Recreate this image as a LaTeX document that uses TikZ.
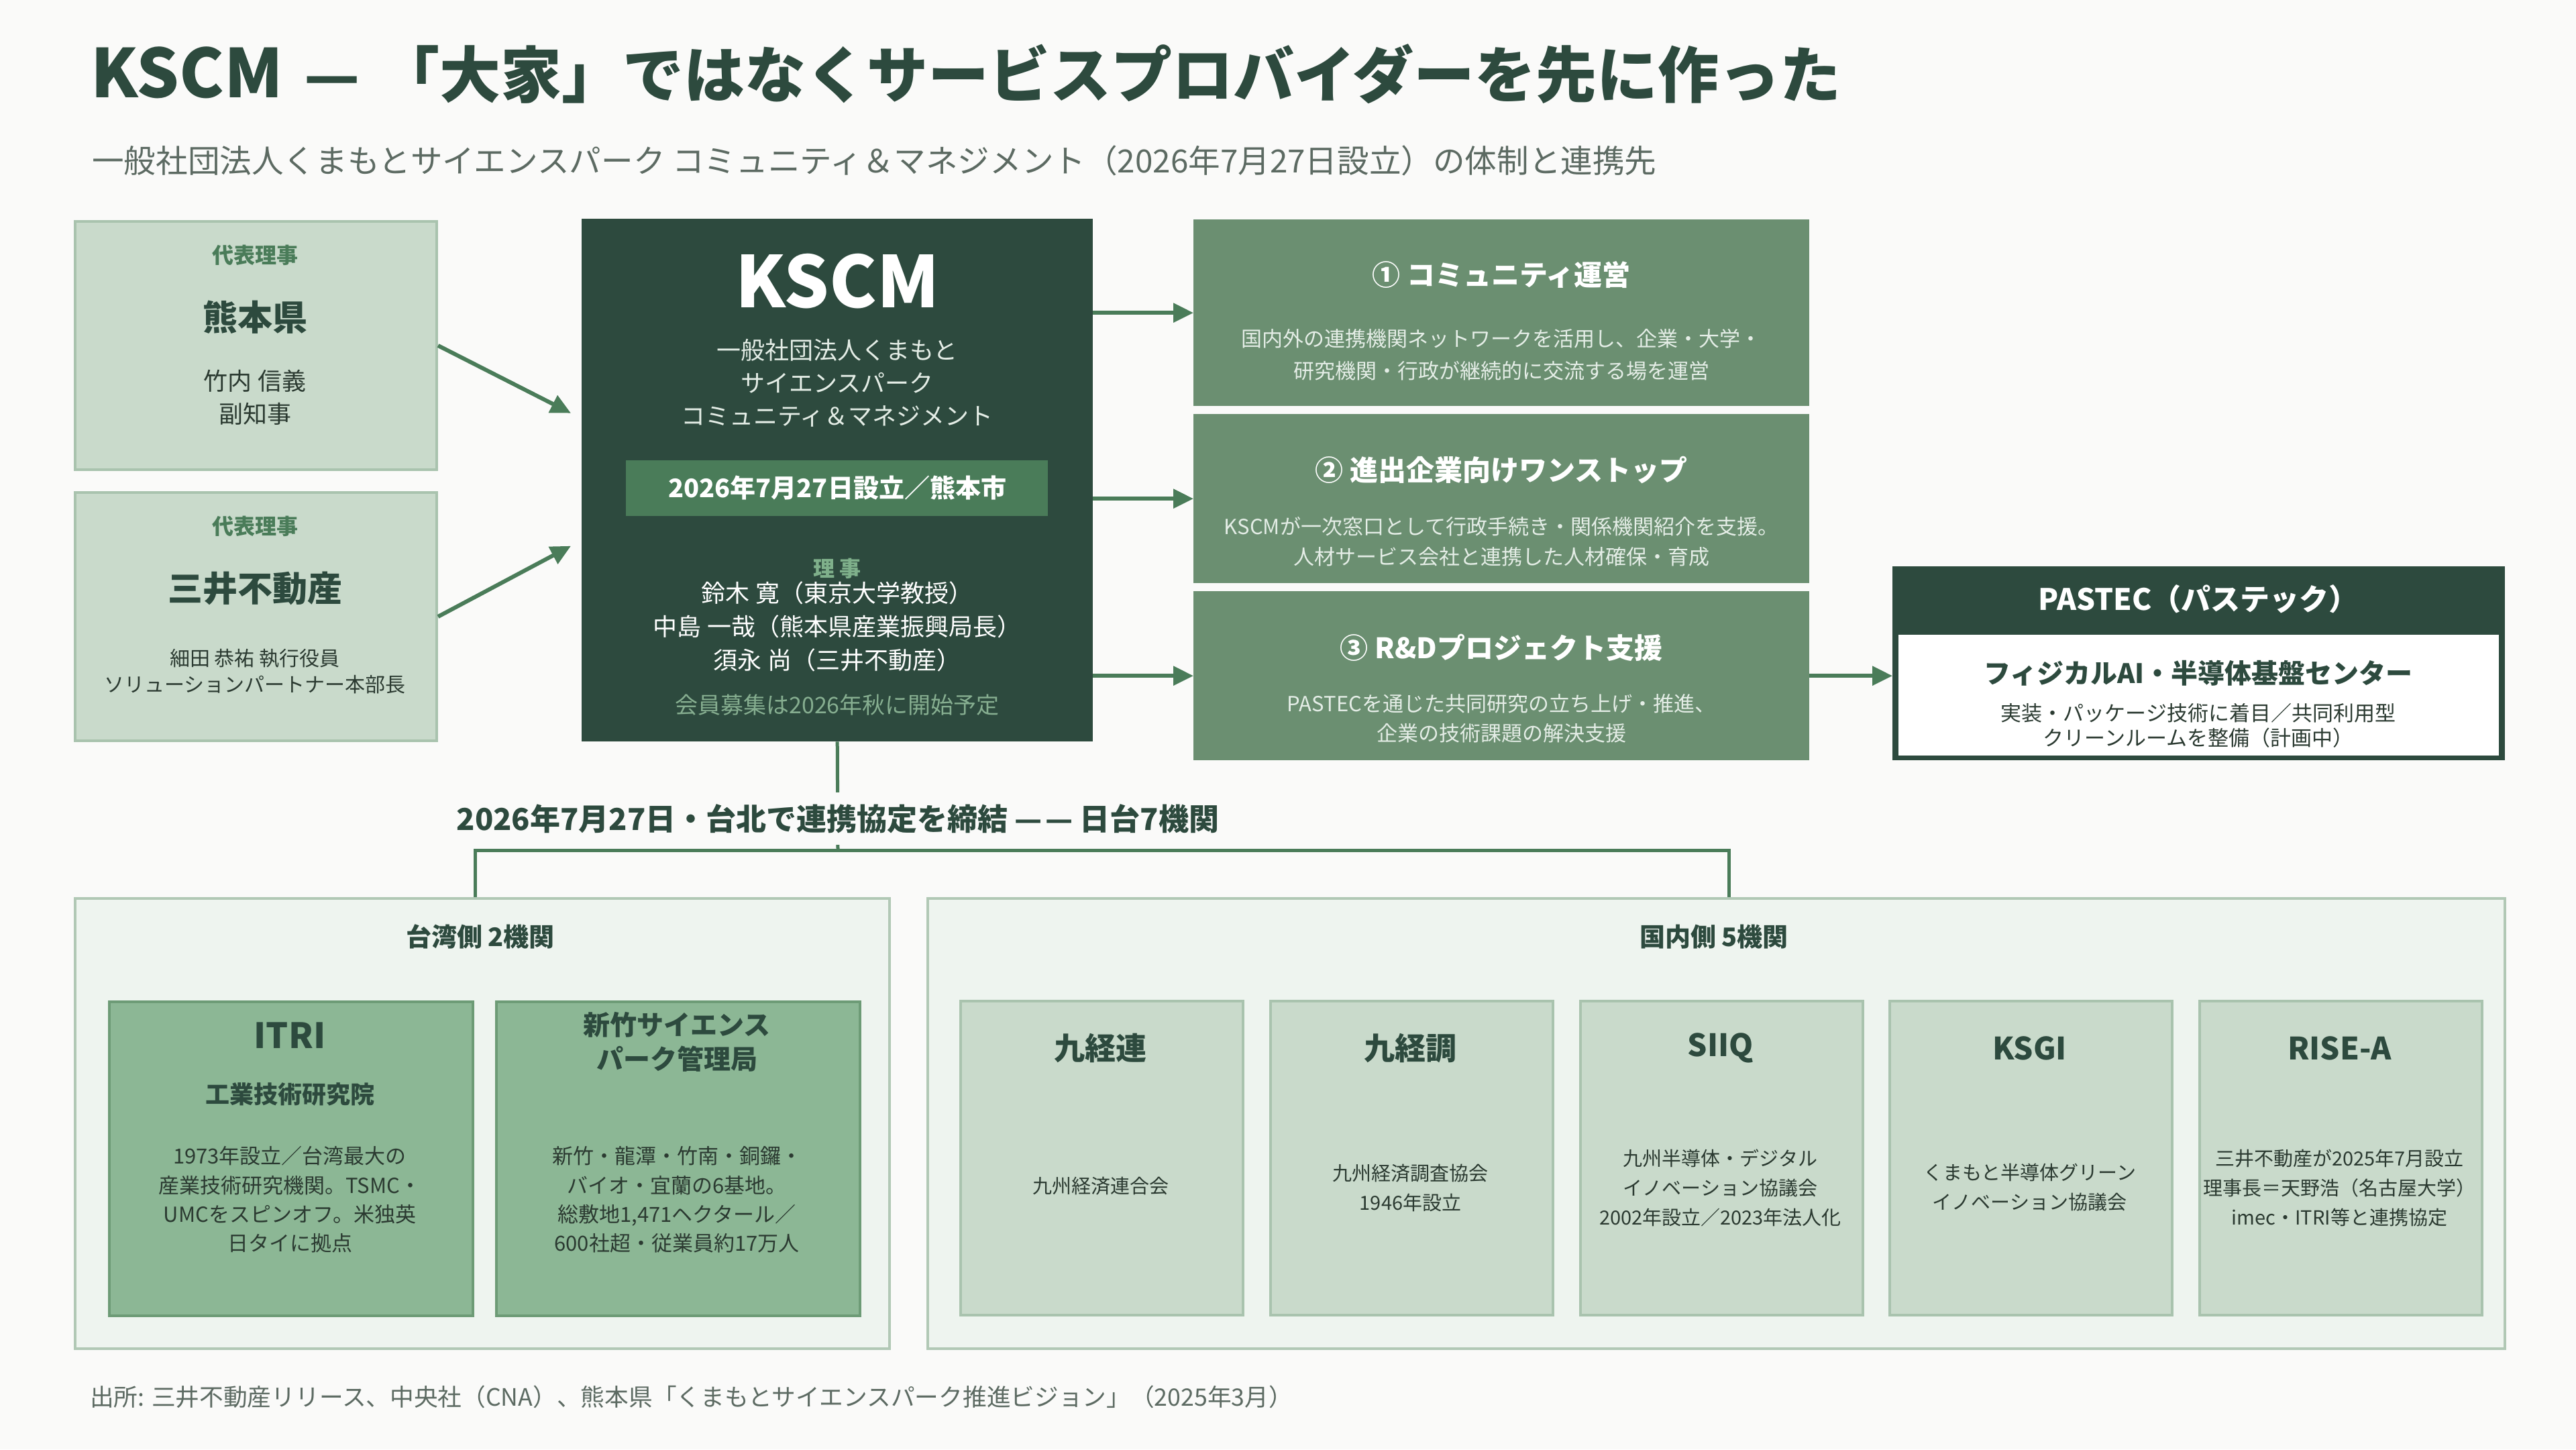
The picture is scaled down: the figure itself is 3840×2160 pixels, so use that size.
\documentclass[tikz,border=0pt]{standalone}
\usepackage{fontspec}
\setmainfont{Noto Sans CJK JP}
\usetikzlibrary{arrows.meta,calc}
\definecolor{bg}{HTML}{FAFAF9}
\definecolor{dk}{HTML}{2D4A3E}
\definecolor{md}{HTML}{4A7C59}
\definecolor{rfill}{HTML}{6B8F71}
\definecolor{lt}{HTML}{C9DACB}
\definecolor{ltb}{HTML}{A9C3AE}
\definecolor{gp}{HTML}{EEF4EF}
\definecolor{gpb}{HTML}{B1C8B5}
\definecolor{twfill}{HTML}{8CB795}
\definecolor{twb}{HTML}{6D9B76}
\definecolor{wt}{HTML}{E4EDE6}
\definecolor{gr}{HTML}{5C6A62}
\definecolor{txt}{HTML}{2B3A31}
\definecolor{lg}{HTML}{7FB08B}
\definecolor{lg2}{HTML}{86AE90}
\newcommand\fsz[2]{\fontsize{#1pt}{#2pt}\selectfont}
\newcommand\mybox[6]{\node[#2, anchor=north west, inner sep=0pt, minimum width={#5-#3}, minimum height={#6-#4}] (#1) at (#3,#4) {};}
\begin{document}
\begin{tikzpicture}[x=1pt,y=-1pt,
  T/.style={inner sep=0pt, align=center, text=txt},
  arr/.style={draw=md, line width=6pt, -{Triangle[length=30pt,width=28pt]}},
  conn/.style={draw=md, line width=5pt},
  lbox/.style={fill=lt, draw=ltb, line width=4pt},
  dbox/.style={fill=dk},
  band/.style={fill=md},
  rbox/.style={fill=rfill},
  pin/.style={fill=white},
  grp/.style={fill=gp, draw=gpb, line width=4pt},
  twbox/.style={fill=twfill, draw=twb, line width=4pt},
  jbox/.style={fill=lt, draw=ltb, line width=4pt},
  ttl/.style={T, font=\fsz{46}{54}\bfseries, text=dk},
  jbody/.style={T, font=\fsz{29}{44}}
]
\fill[bg] (0,0) rectangle (3840,2160);
\useasboundingbox (0,0) rectangle (3840,2160);

% title
\node[T, font=\fsz{91}{100}\bfseries, text=dk, anchor=west] (title) at (135,110) {{\fsz{100}{100}KSCM}\hspace{0.35em}—\hspace{0.3em}「大家」ではなくサービスプロバイダーを先に作った};
\node[T, font=\fsz{47.6}{56}, text=gr, anchor=west] (sub) at (137,239) {一般社団法人くまもとサイエンスパーク コミュニティ＆マネジメント（2026年7月27日設立）の体制と連携先};

% boxes
\mybox{l1}{lbox}{110}{328}{649}{698}
\mybox{l2}{lbox}{110}{732}{649}{1102}
\mybox{kscm}{dbox}{867}{326}{1629}{1105}
\mybox{band}{band}{933}{686}{1562}{769}
\mybox{r1}{rbox}{1779}{327}{2697}{605}
\mybox{r2}{rbox}{1779}{617}{2697}{869}
\mybox{r3}{rbox}{1779}{881}{2697}{1133}
\mybox{pastec}{dbox}{2821}{844}{3734}{1133}
\mybox{pinner}{pin}{2830}{946}{3725}{1126}

% connectors to the groups
\coordinate (hub) at (1249,1267);
\coordinate (twtop) at (708,1337);
\coordinate (jptop) at (2577,1337);
\draw[conn] (kscm.south) -- (hub);
\draw[conn] (twtop) |- (hub) -| (jptop);

\mybox{tw}{grp}{110}{1337}{1324}{2008}
\mybox{jp}{grp}{1381}{1337}{3732}{2008}
\mybox{itri}{twbox}{161}{1491}{703}{1959}
\mybox{hsp}{twbox}{738}{1491}{1280}{1959}
\mybox{j1}{jbox}{1430}{1490}{1851}{1958}
\mybox{j2}{jbox}{1892}{1490}{2313}{1958}
\mybox{j3}{jbox}{2354}{1490}{2775}{1958}
\mybox{j4}{jbox}{2815}{1490}{3236}{1958}
\mybox{j5}{jbox}{3277}{1490}{3698}{1958}

% arrows
\coordinate (ka) at ($(kscm.west)+(-16,-100)$);
\coordinate (kb) at ($(kscm.west)+(-16,98)$);
\draw[arr] (l1.east) -- (ka);
\draw[arr] (l2.east) -- (kb);
\draw[arr] (kscm.east |- r1.west) -- (r1.west);
\draw[arr] (kscm.east |- r2.west) -- (r2.west);
\draw[arr] (kscm.east |- r3.west) -- (r3.west);
\draw[arr] (r3.east) -- (pastec.west |- r3.east);

% left box texts
\node[T, font=\fsz{32}{40}\bfseries, text=md] (l1a) at (380,380) {代表理事};
\node[T, font=\fsz{52}{60}\bfseries, text=dk] (l1b) at (380,473) {熊本県};
\node[T, font=\fsz{36}{49}] (l1c) at (380,592) {竹内 信義\\副知事};
\node[T, font=\fsz{32}{40}\bfseries, text=md] (l2a) at (380,784) {代表理事};
\node[T, font=\fsz{52}{60}\bfseries, text=dk] (l2b) at (380,877) {三井不動産};
\node[T, font=\fsz{30}{39}] (l2c) at (380,1001) {細田 恭祐 執行役員\\ソリューションパートナー本部長};

% KSCM texts
\node[T, font=\fsz{106}{120}\bfseries, text=white] (k0) at (1248,419) {KSCM};
\node[T, font=\fsz{36}{49}, text=wt] (k1) at (1248,571) {一般社団法人くまもと\\サイエンスパーク\\コミュニティ＆マネジメント};
\node[T, font=\fsz{38}{44}\bfseries, text=white] (k2) at (1248,727) {2026年7月27日設立／熊本市};
\node[T, font=\fsz{32}{40}\bfseries, text=lg] (k3) at (1248,847) {理 事};
\node[T, font=\fsz{36}{50}, text=white] (k4) at (1248,934) {鈴木 寛（東京大学教授）\\中島 一哉（熊本県産業振興局長）\\須永 尚（三井不動産）};
\node[T, font=\fsz{34}{40}, text=lg2] (k5) at (1248,1051) {会員募集は2026年秋に開始予定};

% right boxes
\node[T, font=\fsz{42}{50}\bfseries, text=white] (r1t) at (2238,409) {① コミュニティ運営};
\node[T, font=\fsz{31}{48}, text=wt] (r1b) at (2238,529) {国内外の連携機関ネットワークを活用し、企業・大学・\\研究機関・行政が継続的に交流する場を運営};
\node[T, font=\fsz{42}{50}\bfseries, text=white] (r2t) at (2238,700) {② 進出企業向けワンストップ};
\node[T, font=\fsz{31}{45}, text=wt] (r2b) at (2238,807) {KSCMが一次窓口として行政手続き・関係機関紹介を支援。\\人材サービス会社と連携した人材確保・育成};
\node[T, font=\fsz{42}{50}\bfseries, text=white] (r3t) at (2238,965) {③ R\&Dプロジェクト支援};
\node[T, font=\fsz{31}{44}, text=wt] (r3b) at (2238,1071) {PASTECを通じた共同研究の立ち上げ・推進、\\企業の技術課題の解決支援};

% PASTEC
\node[T, font=\fsz{44}{50}\bfseries, text=white] (p0) at (3277,893) {PASTEC（パステック）};
\node[T, font=\fsz{40}{48}\bfseries, text=dk] (p1) at (3277,1003) {フィジカルAI・半導体基盤センター};
\node[T, font=\fsz{31}{37}] (p2) at (3277,1081) {実装・パッケージ技術に着目／共同利用型\\クリーンルームを整備（計画中）};

% agreement label
\node[T, font=\fsz{45}{50}\bfseries, text=dk, fill=bg, inner xsep=10pt, inner ysep=17pt] (lab) at (1249,1220) {2026年7月27日・台北で連携協定を締結 —\hspace{0.1em}— 日台7機関};

% groups
\node[T, font=\fsz{38}{44}\bfseries, text=dk] (twt) at (716,1396) {台湾側 2機関};
\node[T, font=\fsz{38}{44}\bfseries, text=dk] (jpt) at (2555,1396) {国内側 5機関};

\node[T, font=\fsz{52}{60}\bfseries, text=dk] (i0) at (432,1543) {ITRI};
\node[T, font=\fsz{36}{44}\bfseries, text=dk] (i1) at (432,1631) {工業技術研究院};
\node[T, font=\fsz{31}{43.3}] (i2) at (432,1788) {1973年設立／台湾最大の\\産業技術研究機関。TSMC・\\UMCをスピンオフ。米独英\\日タイに拠点};
\node[T, font=\fsz{40}{51}\bfseries, text=dk] (h0) at (1009,1553) {新竹サイエンス\\パーク管理局};
\node[T, font=\fsz{31}{43.3}] (h1) at (1009,1788) {新竹・龍潭・竹南・銅鑼・\\バイオ・宜蘭の6基地。\\総敷地1,471ヘクタール／\\600社超・従業員約17万人};

\node[ttl] (j1t) at (1640.5,1562) {九経連};
\node[jbody] (j1b) at (1640.5,1768) {九州経済連合会};
\node[ttl] (j2t) at (2102.5,1562) {九経調};
\node[jbody] (j2b) at (2102.5,1770) {九州経済調査協会\\1946年設立};
\node[ttl] (j3t) at (2564.5,1562) {SIIQ};
\node[jbody] (j3b) at (2564.5,1770) {九州半導体・デジタル\\イノベーション協議会\\2002年設立／2023年法人化};
\node[ttl] (j4t) at (3025.5,1562) {KSGI};
\node[jbody] (j4b) at (3025.5,1770) {くまもと半導体グリーン\\イノベーション協議会};
\node[ttl] (j5t) at (3487.5,1562) {RISE-A};
\node[jbody] (j5b) at (3487.5,1770) {三井不動産が2025年7月設立\\理事長＝天野浩（名古屋大学）\\imec・ITRI等と連携協定};

% footer
\node[T, font=\fsz{35.7}{40}, text=gr, anchor=west] (foot) at (134,2082) {出所: 三井不動産リリース、中央社（CNA）、熊本県「くまもとサイエンスパーク推進ビジョン」（2025年3月）};
\end{tikzpicture}
\end{document}
